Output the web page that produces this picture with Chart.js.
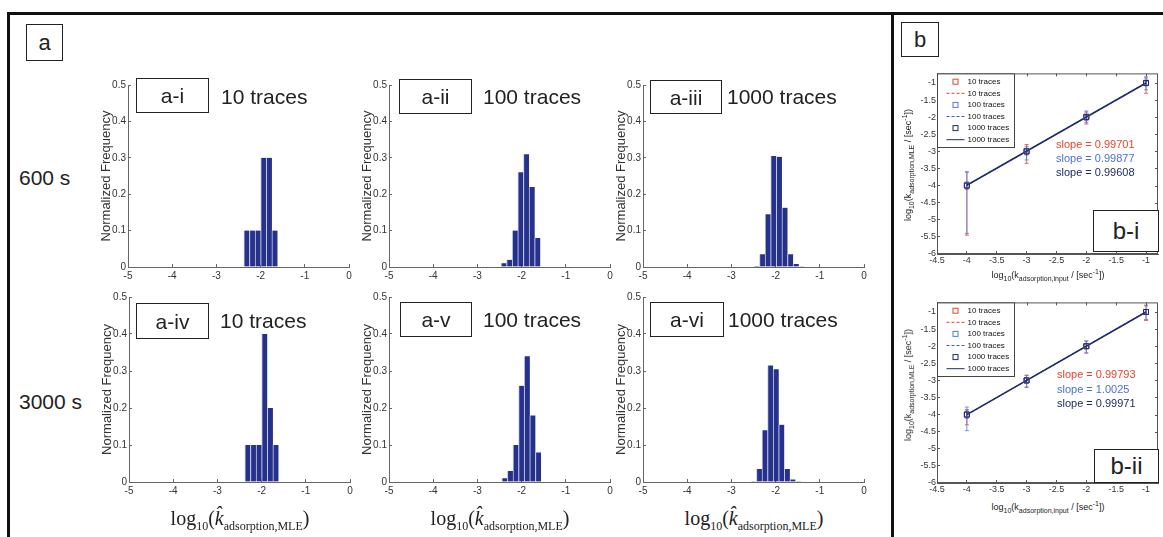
<!DOCTYPE html>
<html>
<head>
<meta charset="utf-8">
<script src="https://cdn.jsdelivr.net/npm/chart.js@4/dist/chart.umd.min.js"></script>
<style>
  body { margin: 0; background: #fff; font-family: "Liberation Sans", Arial, sans-serif; }
  #fig { position: relative; width: 1163px; height: 537px; overflow: hidden; background: #fff; }
  .rule { position: absolute; background: #111; }
  .lbox { position: absolute; box-sizing: border-box; border: 1.5px solid #222; display: flex;
          align-items: center; justify-content: center; color: #222; line-height: 1; }
  .txt { position: absolute; color: #222; white-space: nowrap; line-height: 1; }
  .xlab { position: absolute; font-family: "Liberation Serif", "Times New Roman", serif; font-size: 20px;
          color: #222; white-space: nowrap; transform: translateX(-50%); line-height: 1; }
  .xlab sub { font-size: 12px; }
  .blab { position: absolute; font-size: 9px; color: #222; white-space: nowrap; line-height: 1; }
  .blab sub, .blab sup { font-size: 7px; }
</style>
</head>
<body>
<div id="fig">
  <div class="rule" style="left:7px;top:12px;width:1156px;height:3px"></div>
  <div class="rule" style="left:7px;top:12px;width:3px;height:525px"></div>
  <div class="rule" style="left:891px;top:12px;width:3px;height:525px"></div>

  <div class="lbox" style="left:26px;top:24px;width:37px;height:37px;font-size:22px">a</div>
  <div class="lbox" style="left:901px;top:22px;width:38px;height:35px;font-size:22px">b</div>

  <div class="txt" style="left:19px;top:167px;font-size:21px">600 s</div>
  <div class="txt" style="left:19px;top:391px;font-size:21px">3000 s</div>

  <div class="lbox" style="left:136px;top:78px;width:73px;height:35px;font-size:21px">a-i</div>
  <div class="txt" style="left:221px;top:86px;font-size:21px">10 traces</div>
  <div class="lbox" style="left:399px;top:79px;width:73px;height:35px;font-size:21px">a-ii</div>
  <div class="txt" style="left:483px;top:86px;font-size:21px">100 traces</div>
  <div class="lbox" style="left:650px;top:80px;width:72px;height:34px;font-size:21px">a-iii</div>
  <div class="txt" style="left:727px;top:86px;font-size:21px">1000 traces</div>

  <div class="lbox" style="left:136px;top:303px;width:73px;height:36px;font-size:21px">a-iv</div>
  <div class="txt" style="left:220px;top:310px;font-size:21px">10 traces</div>
  <div class="lbox" style="left:400px;top:302px;width:72px;height:35px;font-size:21px">a-v</div>
  <div class="txt" style="left:483px;top:309px;font-size:21px">100 traces</div>
  <div class="lbox" style="left:650px;top:302px;width:74px;height:35px;font-size:21px">a-vi</div>
  <div class="txt" style="left:728px;top:309px;font-size:21px">1000 traces</div>

  <div class="xlab" style="left:240px;top:508px">log<sub>10</sub>(<i>k&#770;</i><sub>adsorption,MLE</sub>)</div>
  <div class="xlab" style="left:500px;top:508px">log<sub>10</sub>(<i>k&#770;</i><sub>adsorption,MLE</sub>)</div>
  <div class="xlab" style="left:754px;top:508px">log<sub>10</sub>(<i>k&#770;</i><sub>adsorption,MLE</sub>)</div>

  <div class="blab" style="left:1048px;top:268px;transform:translateX(-50%)">log<sub>10</sub>(k<sub>adsorption,input</sub> / [sec<sup>-1</sup>])</div>
  <div class="blab" style="left:1048px;top:500px;transform:translateX(-50%)">log<sub>10</sub>(k<sub>adsorption,input</sub> / [sec<sup>-1</sup>])</div>
  <div class="blab" style="left:908px;top:165px;transform:translate(-50%,-50%) rotate(-90deg)">log<sub>10</sub>(k<sub>adsorption,MLE</sub> / [sec<sup>-1</sup>])</div>
  <div class="blab" style="left:908px;top:385px;transform:translate(-50%,-50%) rotate(-90deg)">log<sub>10</sub>(k<sub>adsorption,MLE</sub> / [sec<sup>-1</sup>])</div>

  <div class="txt" style="left:1056px;top:139px;font-size:11px;color:#e8432a">slope = 0.99701</div>
  <div class="txt" style="left:1056px;top:153px;font-size:11px;color:#4a6fd8">slope = 0.99877</div>
  <div class="txt" style="left:1056px;top:167px;font-size:11px;color:#1e2b6e">slope = 0.99608</div>
  <div class="txt" style="left:1057px;top:369px;font-size:11px;color:#e8432a">slope = 0.99793</div>
  <div class="txt" style="left:1057px;top:384px;font-size:11px;color:#4a6fd8">slope = 1.0025</div>
  <div class="txt" style="left:1057px;top:398px;font-size:11px;color:#1e2b6e">slope = 0.99971</div>

  <div class="lbox" style="left:1093px;top:210px;width:66px;height:42px;font-size:24px;background:#fff">b-i</div>
  <div class="lbox" style="left:1094px;top:449px;width:65px;height:34px;font-size:24px;background:#fff">b-ii</div>
</div>

<script>
// ---- panel a: histogram bin centres (log10 k) and normalized frequency ----
const binsAi = [-2.315, -2.188, -2.061, -1.934, -1.807, -1.68];
const freqAi = [0.1, 0.1, 0.1, 0.3, 0.3, 0.1];
const binsAii = [-2.402, -2.275, -2.148, -2.021, -1.894, -1.767, -1.64];
const freqAii = [0.01, 0.02, 0.10, 0.26, 0.31, 0.22, 0.08];
const binsAiii = [-2.428, -2.301, -2.174, -2.047, -1.92, -1.793, -1.666, -1.539, -1.412];
const freqAiii = [0.003, 0.035, 0.145, 0.305, 0.303, 0.163, 0.035, 0.008, 0.002];
const binsAiv = [-2.315, -2.188, -2.061, -1.934, -1.807, -1.68];
const freqAiv = [0.1, 0.1, 0.1, 0.4, 0.2, 0.1];
const binsAv = [-2.385, -2.258, -2.131, -2.004, -1.877, -1.75, -1.623];
const freqAv = [0.01, 0.03, 0.10, 0.26, 0.34, 0.18, 0.08];
const binsAvi = [-2.496, -2.37, -2.244, -2.118, -1.992, -1.866, -1.74, -1.614, -1.488];
const freqAvi = [0.002, 0.035, 0.14, 0.315, 0.305, 0.155, 0.035, 0.007, 0.002];

// ---- panel b: input log10 k vs estimated log10 k ----
const xIn = [-4, -3, -2, -1];
const fitX = [-4, -1];
const legendLabels = ['10 traces', '10 traces', '100 traces', '100 traces', '1000 traces', '1000 traces'];

// b-i (600 s)
const biMean10 = [-4.0, -3.0, -2.0, -1.0];
const biLo10 = [-5.45, -3.35, -2.2, -1.3];
const biHi10 = [-3.6, -2.8, -1.85, -0.85];
const biMean100 = [-3.98, -2.98, -1.98, -0.99];
const biLo100 = [-5.4, -3.25, -2.15, -1.2];
const biHi100 = [-3.6, -2.85, -1.82, -0.82];
const biMean1000 = [-4.0, -3.0, -2.0, -1.0];
const biLo1000 = [-4.1, -3.1, -2.08, -1.08];
const biHi1000 = [-3.9, -2.92, -1.94, -0.94];
const biFit10 = [-3.99, -1.0];
const biFit100 = [-3.99, -0.995];
const biFit1000 = [-3.99, -1.0];

// b-ii (3000 s)
const biiMean10 = [-4.0, -3.0, -2.0, -1.0];
const biiLo10 = [-4.3, -3.2, -2.2, -1.25];
const biiHi10 = [-3.85, -2.85, -1.85, -0.8];
const biiMean100 = [-4.0, -3.0, -2.0, -1.0];
const biiLo100 = [-4.47, -3.2, -2.2, -1.22];
const biiHi100 = [-3.78, -2.85, -1.85, -0.82];
const biiMean1000 = [-4.0, -3.0, -2.0, -1.0];
const biiLo1000 = [-4.1, -3.08, -2.07, -1.07];
const biiHi1000 = [-3.9, -2.93, -1.93, -0.93];
const biiFit10 = [-4.0, -1.0];
const biiFit100 = [-4.01, -0.99];
const biiFit1000 = [-4.0, -1.0];

const RED = '#e8432a', BLUE = '#4f7ee0', BLUE_LINE = '#3d5cd4', NAVY = '#1e2b6e';
const tickFont = { family: 'Liberation Sans', size: 10 };
const fmt = v => String(Number(v.toFixed(2)));
const fig = document.getElementById('fig');

// canvas placed so that the plot area lands on rect r
function place(r, p) {
  const c = document.createElement('canvas');
  const left = r.l - p.yw - p.l, top = r.t - p.t;
  c.width = r.r + p.r - left;
  c.height = r.b + p.xh + p.b - top;
  c.style.cssText = 'position:absolute;left:' + left + 'px;top:' + top + 'px';
  fig.insertBefore(c, fig.children[3]);
  return c;
}

function hist(rect, bins, freq) {
  const p = { yw: 33, l: 4, t: 10, r: 14, xh: 18, b: 2 };
  new Chart(place(rect, p), {
    type: 'bar',
    data: {
      datasets: [{
        data: bins.map((x, i) => ({ x: x, y: freq[i] })),
        backgroundColor: '#26318c',
        borderColor: '#c3c8e6',
        borderWidth: { left: 1, right: 0, top: 0, bottom: 0 },
        barPercentage: 1,
        categoryPercentage: 1
      }]
    },
    options: {
      responsive: false,
      animation: false,
      layout: { padding: { left: p.l, top: p.t, right: p.r, bottom: p.b } },
      plugins: { legend: { display: false }, tooltip: { enabled: false } },
      scales: {
        x: {
          type: 'linear', min: -5, max: 0, offset: false,
          ticks: { stepSize: 1, font: tickFont, color: '#333', padding: 6, callback: fmt },
          grid: { offset: false, drawOnChartArea: false, tickLength: -3, color: '#666' },
          border: { color: '#666' },
          afterFit: s => { s.height = p.xh; }
        },
        y: {
          min: 0, max: 0.5,
          ticks: { stepSize: 0.1, font: tickFont, color: '#333', padding: 5, callback: fmt },
          grid: { drawOnChartArea: false, tickLength: -3, color: '#666' },
          border: { color: '#666' },
          title: { display: true, text: 'Normalized Frequency', color: '#333',
                   font: { family: 'Liberation Sans', size: 13 }, padding: { top: 4, bottom: 0 } },
          afterFit: s => { s.width = p.yw; }
        }
      }
    }
  });
}

hist({ l: 128, r: 349, t: 84, b: 267 }, binsAi, freqAi);
hist({ l: 389, r: 610, t: 84, b: 267 }, binsAii, freqAii);
hist({ l: 643, r: 864, t: 84, b: 267 }, binsAiii, freqAiii);
hist({ l: 129, r: 350, t: 296, b: 482 }, binsAiv, freqAiv);
hist({ l: 389, r: 610, t: 296, b: 482 }, binsAv, freqAv);
hist({ l: 643, r: 864, t: 296, b: 482 }, binsAvi, freqAvi);

// box, top/right ticks and the in-plot legend of the b panels
const matlabBox = {
  id: 'matlabBox',
  afterDraw(chart) {
    const { ctx, chartArea: a, scales } = chart;
    ctx.save();
    ctx.strokeStyle = '#555';
    ctx.lineWidth = 1;
    ctx.strokeRect(a.left + 0.5, a.top + 0.5, a.width - 1, a.height - 1);
    ctx.beginPath();
    scales.x.ticks.forEach(t => {
      const px = Math.round(scales.x.getPixelForValue(t.value)) + 0.5;
      ctx.moveTo(px, a.top); ctx.lineTo(px, a.top + 3);
    });
    scales.y.ticks.forEach(t => {
      const py = Math.round(scales.y.getPixelForValue(t.value)) + 0.5;
      ctx.moveTo(a.right, py); ctx.lineTo(a.right - 3, py);
    });
    ctx.stroke();

    const items = chart.data.datasets.filter(d => d.label);
    const x0 = a.left + 0.5, y0 = a.top + 0.5, rowH = 11.6, w = 77, h = rowH * items.length + 4;
    ctx.fillStyle = '#fff';
    ctx.fillRect(x0, y0, w, h);
    ctx.strokeStyle = '#444';
    ctx.strokeRect(x0, y0, w, h);
    ctx.font = '8px "Liberation Sans"';
    ctx.textBaseline = 'middle';
    items.forEach((d, i) => {
      const y = y0 + 2 + rowH * (i + 0.5);
      ctx.strokeStyle = d.borderColor;
      ctx.lineWidth = 1;
      if (d.showLine) {
        ctx.setLineDash(d.borderDash || []);
        ctx.beginPath(); ctx.moveTo(x0 + 9, y); ctx.lineTo(x0 + 27, y); ctx.stroke();
        ctx.setLineDash([]);
      } else {
        ctx.strokeRect(x0 + 15.5, y - 2.5, 5, 5);
      }
      ctx.fillStyle = '#111';
      ctx.fillText(d.label, x0 + 30, y);
    });
    ctx.restore();
  }
};

function errData(lo, hi) {
  const d = [];
  xIn.forEach((x, i) => d.push({ x: x, y: lo[i] }, { x: x, y: hi[i] }, { x: x, y: null }));
  return d;
}
function pts(xs, ys) { return xs.map((x, i) => ({ x: x, y: ys[i] })); }

function fitPanel(rect, s) {
  const p = { yw: 22, l: 2, t: 4, r: 4, xh: 14, b: 2 };
  // lower order = drawn later (on top)
  const marker = (label, data, color, order) => ({
    label: label, data: data, showLine: false, borderColor: color, backgroundColor: 'rgba(0,0,0,0)',
    pointStyle: 'rect', pointRadius: 3.5, pointBorderWidth: 1, order: order
  });
  const fit = (label, data, color, dash, width, order) => ({
    label: label, data: data, showLine: true, borderColor: color, borderWidth: width,
    borderDash: dash, pointRadius: 0, order: order
  });
  const err = (data, color, order) => ({
    data: data, showLine: true, borderColor: color, borderWidth: 0.8, pointStyle: 'line',
    pointRadius: 2, pointBorderWidth: 0.8, spanGaps: false, order: order
  });
  new Chart(place(rect, p), {
    type: 'scatter',
    data: {
      datasets: [
        marker(legendLabels[0], pts(xIn, s.mean10), RED, 2),
        fit(legendLabels[1], pts(fitX, s.fit10), RED, [3, 2], 1, 5),
        marker(legendLabels[2], pts(xIn, s.mean100), BLUE, 1),
        fit(legendLabels[3], pts(fitX, s.fit100), BLUE_LINE, [3, 2], 1, 4),
        marker(legendLabels[4], pts(xIn, s.mean1000), NAVY, 0),
        fit(legendLabels[5], pts(fitX, s.fit1000), NAVY, [], 1.6, 3),
        err(errData(s.lo10, s.hi10), RED, 8),
        err(errData(s.lo100, s.hi100), BLUE, 7),
        err(errData(s.lo1000, s.hi1000), NAVY, 6)
      ]
    },
    options: {
      responsive: false,
      animation: false,
      layout: { padding: { left: p.l, top: p.t, right: p.r, bottom: p.b } },
      plugins: { legend: { display: false }, tooltip: { enabled: false } },
      scales: {
        x: {
          type: 'linear', min: -4.5, max: -0.8,
          ticks: { stepSize: 0.5, includeBounds: false, font: { family: 'Liberation Sans', size: 9 },
                   color: '#333', padding: 4, callback: fmt },
          grid: { drawOnChartArea: false, tickLength: -3, color: '#555' },
          border: { color: '#555' },
          afterFit: sc => { sc.height = p.xh; }
        },
        y: {
          type: 'linear', min: -6, max: -0.72,
          ticks: { stepSize: 0.5, includeBounds: false, font: { family: 'Liberation Sans', size: 9 },
                   color: '#333', padding: 4, callback: fmt },
          grid: { drawOnChartArea: false, tickLength: -3, color: '#555' },
          border: { color: '#555' },
          afterFit: sc => { sc.width = p.yw; }
        }
      }
    },
    plugins: [matlabBox]
  });
}

fitPanel({ l: 937, r: 1159, t: 68, b: 254 }, {
  mean10: biMean10, lo10: biLo10, hi10: biHi10, fit10: biFit10,
  mean100: biMean100, lo100: biLo100, hi100: biHi100, fit100: biFit100,
  mean1000: biMean1000, lo1000: biLo1000, hi1000: biHi1000, fit1000: biFit1000
});
fitPanel({ l: 937, r: 1159, t: 297, b: 483 }, {
  mean10: biiMean10, lo10: biiLo10, hi10: biiHi10, fit10: biiFit10,
  mean100: biiMean100, lo100: biiLo100, hi100: biiHi100, fit100: biiFit100,
  mean1000: biiMean1000, lo1000: biiLo1000, hi1000: biiHi1000, fit1000: biiFit1000
});
</script>
</body>
</html>
